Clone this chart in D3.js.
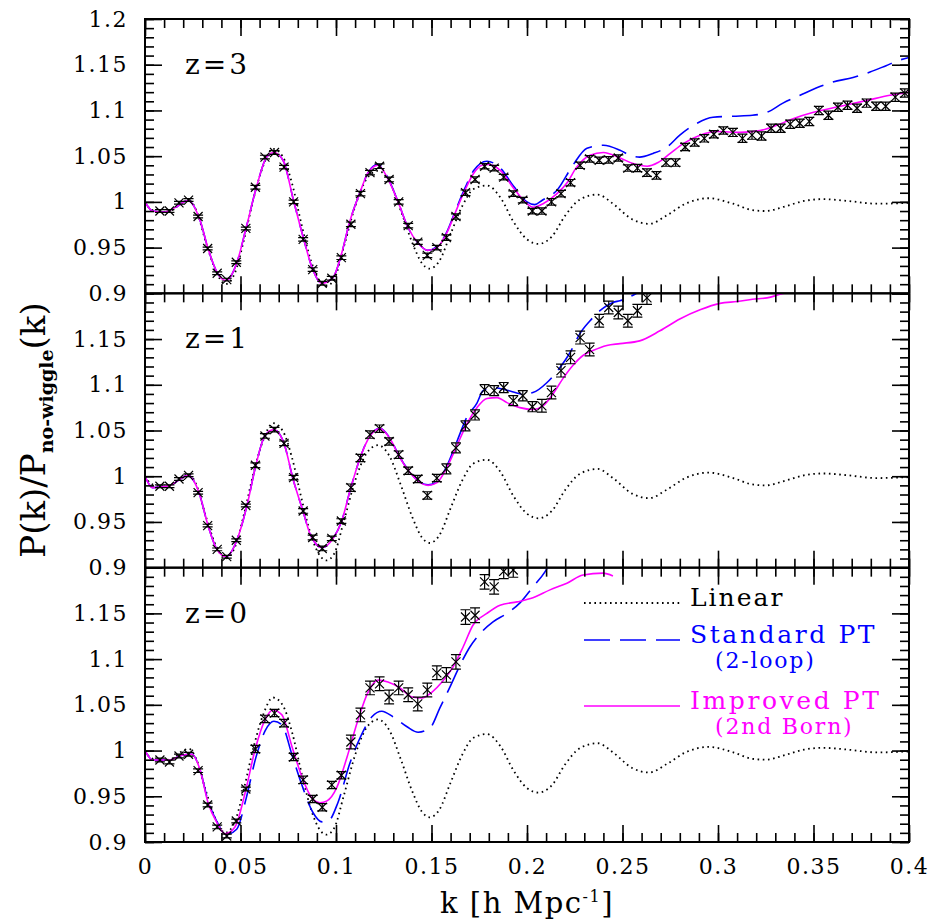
<!DOCTYPE html>
<html>
<head>
<meta charset="utf-8">
<script src="https://cdn.jsdelivr.net/npm/d3@7"></script>
<style>
  body { margin: 0; background: #fff; }
  svg text { font-family: "DejaVu Serif", serif; fill: #000; }
</style>
</head>
<body>
<svg id="chart" width="935" height="924"></svg>
<script>
// --- DATA ---
// N-body sampling in k [h/Mpc]
const kNbody = [0.0078,0.0128,0.0178,0.0228,0.0278,0.0328,0.0378,0.0428,0.0478,0.0528,
  0.0578,0.0628,0.0678,0.0728,0.0778,0.0828,0.0878,0.0928,0.0978,0.1028,
  0.1078,0.1128,0.1178,0.1228,0.1278,0.1328,0.1378,0.1428,0.1478,0.1528,
  0.1578,0.1628,0.1678,0.1728,0.1778,0.1828,0.1878,0.1928,0.1978,0.2028,
  0.2078,0.2128,0.2178,0.2228,0.2278,0.2328,0.2378,0.2428,0.2478,0.2528,
  0.2578,0.2628,0.2678,0.2728,0.2778,0.2828,0.2878,0.2928,0.2978,0.3028,
  0.3078,0.3128,0.3178,0.3228,0.3278,0.3328,0.3378,0.3428,0.3478,0.3528,
  0.3578,0.3628,0.3678,0.3728,0.3778,0.3828,0.3878,0.3928,0.3978];

const nbodyZ3 = [0.990,0.990,0.999,1.002,0.984,0.949,0.922,0.915,0.934,0.971,
  1.016,1.049,1.054,1.038,1.000,0.959,0.926,0.911,0.9165,0.939,
  0.9755,1.009,1.032,1.039,1.0245,1.000,0.974,0.956,0.9415,0.950,
  0.961,0.984,1.010,1.0245,1.039,1.037,1.027,1.009,1.002,0.990,
  0.990,1.000,1.009,1.021,1.040,1.047,1.0455,1.046,1.048,1.037,
  1.037,1.032,1.029,1.043,1.043,1.060,1.065,1.0695,1.074,1.078,
  1.076,1.0695,1.073,1.072,1.0805,1.0805,1.085,1.086,1.088,1.100,
  1.0947,1.1035,1.1057,1.1024,1.108,1.1046,1.1046,1.1145,1.119];
const errZ3 = [0.0015,0.0015,0.0015,0.0015,0.0015,0.0015,0.0015,0.0015,0.0015,0.0015,
  0.002,0.002,0.002,0.002,0.002,0.002,0.002,0.002,0.002,0.002,
  0.0025,0.0025,0.0025,0.0025,0.0025,0.0025,0.0025,0.0025,0.0025,0.0025,
  0.003,0.003,0.003,0.003,0.003,0.003,0.003,0.003,0.003,0.003,
  0.0035,0.0035,0.0035,0.0035,0.0035,0.0035,0.0035,0.0035,0.0035,0.0035,
  0.004,0.004,0.004,0.004,0.004,0.004,0.004,0.004,0.004,0.004,
  0.0045,0.0045,0.0045,0.0045,0.0045,0.0045,0.0045,0.0045,0.0045,0.0045,
  0.0045,0.0045,0.0045,0.0045,0.0045,0.0045,0.0045,0.0045,0.0045];

const nbodyZ1 = [0.989,0.989,0.997,1.001,0.982,0.946,0.920,0.912,0.930,0.968,
  1.012,1.044,1.051,1.036,0.9985,0.962,0.933,0.921,0.932,0.951,
  0.9875,1.020,1.0455,1.052,1.038,1.0236,1.006,0.997,0.979,0.998,
  1.008,1.031,1.055,1.067,1.0947,1.0936,1.097,1.0827,1.088,1.076,
  1.077,1.0915,1.1155,1.130,1.1516,1.1385,1.170,1.1845,1.179,1.170,
  1.181,1.195];
const errZ1 = [0.0015,0.0015,0.0015,0.0015,0.0015,0.0015,0.0015,0.0015,0.0015,0.0015,
  0.0025,0.0025,0.0025,0.0025,0.0025,0.0025,0.0025,0.0025,0.0025,0.0025,
  0.004,0.004,0.004,0.004,0.004,0.004,0.004,0.004,0.004,0.004,
  0.0055,0.0055,0.0055,0.0055,0.0055,0.0055,0.0055,0.0055,0.0055,0.0055,
  0.007,0.007,0.007,0.007,0.007,0.007,0.007,0.007,0.007,0.007,
  0.007,0.007];

const nbodyZ0 = [0.9897,0.9875,0.994,0.996,0.978,0.9405,0.9165,0.9066,0.923,0.958,
  1.0017,1.0346,1.041,1.030,0.993,0.968,0.947,0.938,0.9624,0.973,
  1.0094,1.039,1.0685,1.073,1.0586,1.0685,1.061,1.051,1.0663,1.085,
  1.0827,1.097,1.146,1.148,1.1845,1.179,1.196,1.1975];
const errZ0 = [0.002,0.002,0.002,0.002,0.002,0.002,0.002,0.002,0.002,0.002,
  0.004,0.004,0.004,0.004,0.004,0.004,0.004,0.004,0.004,0.004,
  0.0075,0.0075,0.0075,0.0075,0.0075,0.0075,0.0075,0.0075,0.0075,0.0075,
  0.008,0.008,0.008,0.008,0.008,0.008,0.008,0.008];

// linear theory (same in every panel)
const kLinear = [0,0.003,0.008,0.014,0.020,0.023,0.027,0.032,0.037,0.042,0.047,0.052,0.057,0.062,0.067,0.072,
  0.077,0.082,0.087,0.092,0.095,0.099,0.104,0.110,0.116,0.122,0.128,0.134,0.140,0.145,0.149,0.154,
  0.160,0.166,0.172,0.179,0.186,0.193,0.200,0.206,0.213,0.220,0.228,0.237,0.245,0.255,0.264,0.273,
  0.283,0.295,0.308,0.318,0.325,0.335,0.345,0.355,0.368,0.383,0.400];
const linear = [1.000,0.992,0.989,0.991,1.000,1.002,0.990,0.955,0.925,0.910,0.922,0.960,1.005,1.040,1.058,1.050,
  1.020,0.975,0.935,0.912,0.908,0.915,0.950,0.995,1.025,1.034,1.022,0.990,0.955,0.933,0.927,0.935,
  0.965,0.995,1.014,1.018,1.005,0.978,0.959,0.954,0.962,0.985,1.003,1.008,0.998,0.981,0.976,0.985,
  0.998,1.004,0.998,0.991,0.990,0.995,1.001,1.003,1.001,0.998,0.999];

// z=3
const kImpZ3 = [0,0.004,0.010,0.016,0.0225,0.0288,0.033,0.0377,0.0424,0.048,0.053,0.0586,0.0637,0.0675,0.0724,0.0777,
  0.083,0.0874,0.0925,0.0985,0.103,0.107,0.1126,0.1168,0.122,0.127,0.1325,0.1377,0.143,0.148,0.1529,0.158,
  0.1623,0.1675,0.172,0.1764,0.1796,0.186,0.193,0.200,0.2032,0.2084,0.2157,0.221,0.226,0.233,0.240,0.2487,
  0.2555,0.263,0.2686,0.275,0.282,0.2906,0.2995,0.3115,0.322,0.331,0.3393,0.350,0.364,0.378,0.390,0.400];
const impZ3 = [1.000,0.990,0.989,0.994,1.0016,0.980,0.949,0.923,0.914,0.933,0.972,1.018,1.049,1.054,1.045,1.002,
  0.960,0.9285,0.911,0.9175,0.944,0.977,1.0105,1.032,1.040,1.026,1.000,0.972,0.955,0.947,0.950,0.966,
  0.9875,1.0127,1.031,1.040,1.041,1.0345,1.015,0.998,0.994,0.998,1.009,1.021,1.038,1.051,1.054,1.048,
  1.042,1.039,1.043,1.053,1.064,1.073,1.077,1.076,1.078,1.084,1.091,1.098,1.1045,1.111,1.1166,1.120];
const kStdZ3 = [0,0.004,0.010,0.016,0.0225,0.0288,0.033,0.0377,0.0424,0.048,0.053,0.0586,0.0637,0.0675,0.0724,0.0777,
  0.083,0.0874,0.0925,0.0985,0.103,0.107,0.1126,0.1168,0.122,0.127,0.1325,0.1377,0.143,0.148,0.1529,0.158,
  0.1623,0.1675,0.172,0.179,0.186,0.193,0.200,0.204,0.208,0.2157,0.224,0.2314,0.240,0.2487,0.254,0.259,
  0.266,0.2733,0.280,0.289,0.2974,0.3079,0.318,0.3257,0.334,0.343,0.352,0.360,0.3707,0.3796,0.388,0.395,0.400];
const stdZ3 = [1.000,0.990,0.989,0.994,1.0016,0.980,0.949,0.923,0.914,0.933,0.972,1.018,1.049,1.054,1.045,1.002,
  0.960,0.9285,0.911,0.9175,0.944,0.977,1.0105,1.032,1.041,1.027,1.000,0.972,0.955,0.947,0.951,0.967,
  0.989,1.015,1.034,1.0445,1.037,1.017,1.000,0.997,1.0018,1.0127,1.040,1.0586,1.062,1.0565,1.051,1.049,
  1.053,1.060,1.073,1.086,1.0925,1.0937,1.0947,1.098,1.108,1.1166,1.125,1.131,1.136,1.142,1.149,1.155,1.158];

// z=1
const kImpZ1 = [0,0.004,0.013,0.0225,0.0283,0.033,0.0377,0.0424,0.048,0.0534,0.058,0.0628,0.0675,0.0728,0.0775,0.0827,
  0.0864,0.0927,0.0985,0.103,0.1073,0.1126,0.1178,0.123,0.1283,0.1335,0.1387,0.144,0.1482,0.1529,0.158,0.1633,
  0.1686,0.1738,0.179,0.1843,0.1895,0.1963,0.2031,0.2084,0.2136,0.2188,0.224,0.2293,0.2345,0.2418,0.2487,0.259,
  0.2696,0.280,0.2906,0.301,0.310,0.3204,0.3257,0.3325,0.336];
const impZ1 = [1.000,0.9875,0.990,1.0006,0.982,0.946,0.9197,0.912,0.9295,0.968,1.0116,1.0444,1.051,1.0357,0.997,0.962,
  0.937,0.922,0.932,0.951,0.984,1.020,1.044,1.052,1.041,1.020,1.004,0.993,0.990,0.993,1.0094,1.0334,
  1.0575,1.075,1.085,1.086,1.0805,1.075,1.073,1.077,1.090,1.1067,1.121,1.132,1.1374,1.143,1.145,1.148,
  1.159,1.172,1.182,1.189,1.191,1.194,1.195,1.199,1.201];
const kStdZ1 = [0,0.004,0.013,0.0225,0.0283,0.033,0.0377,0.0424,0.048,0.0534,0.058,0.0628,0.0675,0.0728,0.0775,0.0827,
  0.0864,0.0927,0.0985,0.103,0.1073,0.1126,0.1178,0.123,0.1283,0.1335,0.1387,0.144,0.1482,0.1529,0.158,0.1633,
  0.1686,0.1738,0.177,0.1822,0.1895,0.1974,0.2031,0.2105,0.2173,0.2225,0.2277,0.233,0.2382,0.245,0.2487,0.2565,0.260];
const stdZ1 = [1.000,0.9875,0.990,1.0006,0.982,0.946,0.9197,0.912,0.9295,0.968,1.0116,1.0444,1.051,1.0357,0.997,0.962,
  0.937,0.922,0.932,0.951,0.984,1.020,1.0445,1.0525,1.0415,1.0205,1.0045,0.9935,0.9905,0.994,1.011,1.038,
  1.065,1.080,1.0936,1.097,1.094,1.090,1.0915,1.1025,1.119,1.135,1.156,1.170,1.181,1.190,1.192,1.199,1.203];

// z=0
const kImpZ0 = [0,0.004,0.013,0.0194,0.0246,0.0288,0.033,0.0377,0.0419,0.0471,0.0524,0.0576,0.0628,0.067,0.0717,0.077,
  0.0822,0.0874,0.0916,0.0953,0.1005,0.1058,0.1115,0.1168,0.122,0.1272,0.1335,0.1398,0.145,0.1503,0.1555,0.1613,
  0.1665,0.1717,0.179,0.1859,0.1948,0.2031,0.212,0.2209,0.2293,0.2398,0.245];
const impZ0 = [1.000,0.9897,0.9897,0.995,0.996,0.979,0.943,0.921,0.909,0.9165,0.9536,1.0006,1.0335,1.0444,1.039,1.004,
  0.971,0.948,0.943,0.945,0.960,0.993,1.0335,1.064,1.077,1.075,1.0685,1.0586,1.0575,1.064,1.075,1.0915,
  1.113,1.137,1.150,1.159,1.1626,1.167,1.1757,1.183,1.192,1.194,1.191];
const kStdZ0 = [0,0.004,0.013,0.0194,0.0246,0.0288,0.033,0.0377,0.0424,0.048,0.053,0.058,0.063,0.0675,0.0717,0.077,
  0.0822,0.088,0.0927,0.096,0.101,0.1073,0.1126,0.1188,0.124,0.1298,0.1372,0.143,0.1492,0.1544,0.1597,0.165,
  0.170,0.1764,0.1822,0.1895,0.1963,0.2031,0.2094,0.211];
const stdZ0 = [1.000,0.9897,0.9897,0.995,0.996,0.979,0.945,0.922,0.908,0.914,0.948,0.992,1.022,1.032,1.028,0.995,
  0.962,0.932,0.922,0.923,0.943,0.9864,1.014,1.037,1.043,1.037,1.026,1.020,1.0247,1.0466,1.0696,1.0936,
  1.113,1.130,1.1407,1.150,1.1615,1.179,1.1954,1.201];

const panelLabels = ["z=3", "z=1", "z=0"];
const yTickValues = [0.9, 0.95, 1, 1.05, 1.1, 1.15, 1.2];
const xTickValues = [0, 0.05, 0.1, 0.15, 0.2, 0.25, 0.3, 0.35, 0.4];
const legendLabels = ["Linear", "Standard PT", "Improved PT"];
const legendNotes = ["", "(2-loop)", "(2nd Born)"];

// --- CONFIGURATION ---
const LEFT = 145, RIGHT = 909, TOP = 19, BOTTOM = 842;
const PANEL_H = (BOTTOM - TOP) / 3;
const MAJOR = 17, MINOR = 9;
const BLUE = "#0000ff", MAGENTA = "#ff00ff";

const panels = [
  { label: panelLabels[0], nbody: nbodyZ3, err: errZ3, kImp: kImpZ3, imp: impZ3, kStd: kStdZ3, std: stdZ3 },
  { label: panelLabels[1], nbody: nbodyZ1, err: errZ1, kImp: kImpZ1, imp: impZ1, kStd: kStdZ1, std: stdZ1 },
  { label: panelLabels[2], nbody: nbodyZ0, err: errZ0, kImp: kImpZ0, imp: impZ0, kStd: kStdZ0, std: stdZ0 }
];

const svg = d3.select("#chart");
const x = d3.scaleLinear().domain([0, 0.4]).range([LEFT, RIGHT]);

const zip = (ks, vs) => ks.map((k, i) => [k, vs[i]]);

panels.forEach((p, pi) => {
  const top = TOP + pi * PANEL_H;
  const y = d3.scaleLinear().domain([0.9, 1.2]).range([top + PANEL_H, top]);
  const g = svg.append("g");

  const clipId = "clip" + pi;
  svg.append("clipPath").attr("id", clipId).append("rect")
    .attr("x", LEFT).attr("y", top).attr("width", RIGHT - LEFT).attr("height", PANEL_H);

  const plot = g.append("g").attr("clip-path", `url(#${clipId})`);
  const line = d3.line().x(d => x(d[0])).y(d => y(d[1])).curve(d3.curveMonotoneX);

  // linear
  plot.append("path").attr("d", line(zip(kLinear, linear)))
    .attr("fill", "none").attr("stroke", "#000").attr("stroke-width", 1.8)
    .attr("stroke-dasharray", "1.6,3.6");
  // standard PT
  plot.append("path").attr("d", line(zip(p.kStd, p.std)))
    .attr("fill", "none").attr("stroke", BLUE).attr("stroke-width", 1.6)
    .attr("stroke-dasharray", "26,10");
  // improved PT
  plot.append("path").attr("d", line(zip(p.kImp, p.imp)))
    .attr("fill", "none").attr("stroke", MAGENTA).attr("stroke-width", 1.6);

  // N-body points with error bars
  const pts = plot.selectAll(".pt").data(p.nbody.map((v, i) => ({ k: kNbody[i], v, e: p.err[i] })))
    .enter().append("g")
    .attr("transform", d => `translate(${x(d.k)},0)`)
    .attr("stroke", "#000").attr("stroke-width", 1.2).attr("fill", "none");
  pts.append("path").attr("d", d => {
    const y1 = y(d.v + d.e), y2 = y(d.v - d.e), c = 5;
    return `M0,${y1}V${y2}M${-c},${y1}H${c}M${-c},${y2}H${c}`;
  });
  pts.append("path").attr("d", d => {
    const yc = y(d.v), s = 4.5;
    return `M${-s},${yc - s}L${s},${yc + s}M${-s},${yc + s}L${s},${yc - s}`;
  });

  // ticks on all four sides
  const yLab = pi === 0 ? yTickValues : yTickValues.filter(v => v < 1.2);
  g.append("g").attr("transform", `translate(${LEFT},0)`)
    .call(d3.axisLeft(y).tickValues(y.ticks(30)).tickSize(-MINOR).tickFormat(""));
  g.append("g").attr("transform", `translate(${LEFT},0)`)
    .call(d3.axisLeft(y).tickValues(yLab).tickSize(-MAJOR).tickPadding(17).tickFormat(d => String(d)));
  g.append("g").attr("transform", `translate(${RIGHT},0)`)
    .call(d3.axisRight(y).tickValues(y.ticks(30)).tickSize(-MINOR).tickFormat(""));
  g.append("g").attr("transform", `translate(${RIGHT},0)`)
    .call(d3.axisRight(y).tickValues(yTickValues).tickSize(-MAJOR).tickFormat(""));
  g.append("g").attr("transform", `translate(0,${top})`)
    .call(d3.axisTop(x).tickValues(x.ticks(40)).tickSize(-MINOR).tickFormat(""));
  g.append("g").attr("transform", `translate(0,${top})`)
    .call(d3.axisTop(x).tickValues(xTickValues).tickSize(-MAJOR).tickFormat(""));
  g.append("g").attr("transform", `translate(0,${top + PANEL_H})`)
    .call(d3.axisBottom(x).tickValues(x.ticks(40)).tickSize(-MINOR).tickFormat(""));
  g.append("g")
    .attr("transform", `translate(0,${top + PANEL_H})`)
    .call(d3.axisBottom(x).tickValues(xTickValues).tickSize(-MAJOR).tickPadding(16)
      .tickFormat(d => pi === 2 ? String(d) : ""));

  g.selectAll(".domain").remove();
  g.selectAll(".tick line").attr("stroke", "#000").attr("stroke-width", 1.6);
  g.selectAll(".tick text").style("font-size", "22px").style("letter-spacing", "1.5px")
    .style("font-family", '"DejaVu Serif", serif').attr("fill", "#000");

  g.append("rect").attr("x", LEFT).attr("y", top).attr("width", RIGHT - LEFT).attr("height", PANEL_H)
    .attr("fill", "none").attr("stroke", "#000").attr("stroke-width", 2);

  g.append("text").attr("x", 185).attr("y", top + 55)
    .style("font-size", "28px").style("letter-spacing", "3px").text(p.label);
});

// --- LEGEND (bottom panel) ---
const leg = svg.append("g");
const legY = [603, 640, 706];
const legStyles = [
  { stroke: "#000", dash: "1.6,3.6", w: 1.8 },
  { stroke: BLUE, dash: "26,10", w: 1.6 },
  { stroke: MAGENTA, dash: null, w: 1.6 }
];
legendLabels.forEach((lab, i) => {
  leg.append("line").attr("x1", 584).attr("x2", 680).attr("y1", legY[i]).attr("y2", legY[i])
    .attr("stroke", legStyles[i].stroke).attr("stroke-width", legStyles[i].w)
    .attr("stroke-dasharray", legStyles[i].dash);
  leg.append("text").attr("x", 690).attr("y", legY[i] + 3)
    .style("font-size", "25px").style("letter-spacing", i === 0 ? "2px" : "2.6px")
    .style("fill", legStyles[i].stroke).text(lab);
  if (legendNotes[i]) {
    leg.append("text").attr("x", 715).attr("y", legY[i] + 28)
      .style("font-size", "22px").style("letter-spacing", "1.8px")
      .style("fill", legStyles[i].stroke).text(legendNotes[i]);
  }
});

// --- AXIS TITLES ---
const xt = svg.append("text").attr("x", (LEFT + RIGHT) / 2).attr("y", 913)
  .attr("text-anchor", "middle").style("font-size", "29px").style("letter-spacing", "1.5px");
xt.append("tspan").text("k [h Mpc");
xt.append("tspan").attr("dy", -11).style("font-size", "16px").text("-1");
xt.append("tspan").attr("dy", 11).text("]");

const yt = svg.append("text").attr("transform", "translate(45,430) rotate(-90)")
  .attr("text-anchor", "middle").style("font-size", "34px");
yt.append("tspan").text("P(k)/P");
yt.append("tspan").attr("dy", 8).style("font-size", "19px").style("font-weight", "bold").text("no-wiggle");
yt.append("tspan").attr("dy", -8).text("(k)");
</script>
</body>
</html>
